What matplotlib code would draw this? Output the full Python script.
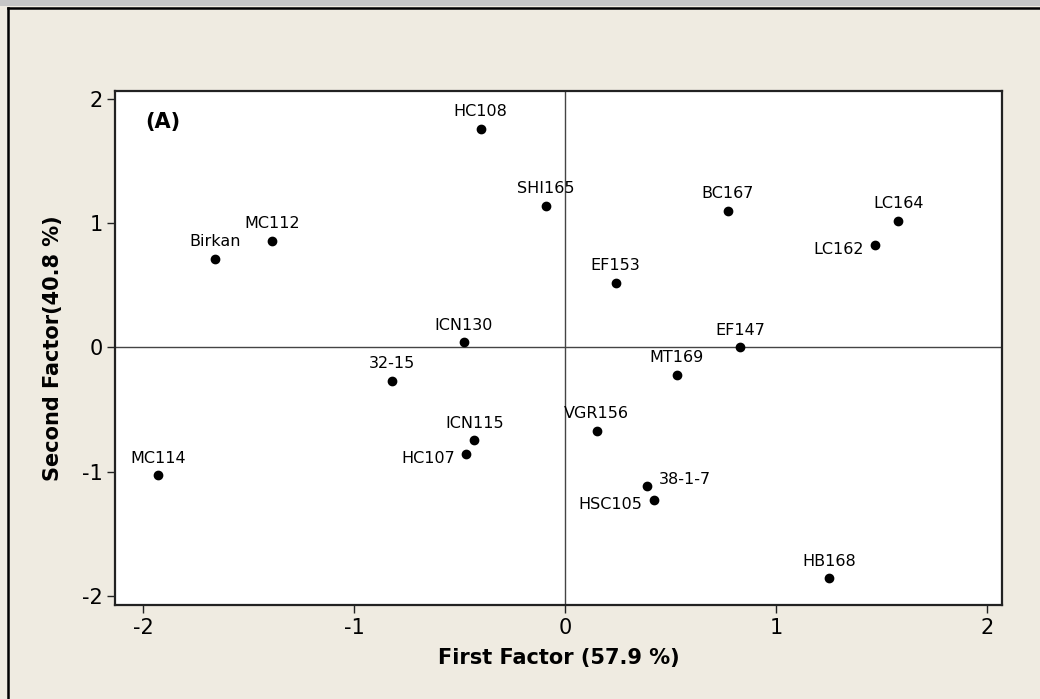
import matplotlib
matplotlib.use('Agg')
import matplotlib.pyplot as plt
from matplotlib.patches import Rectangle
from matplotlib.lines import Line2D

plt.rcParams['font.family'] = ['DejaVu Sans']
plt.rcParams['axes.unicode_minus'] = False

# 데이터
names = ['HC108', 'SHI165', 'Birkan', 'MC112', 'ICN130', '32-15', 'BC167',
         'LC164', 'LC162', 'EF153', 'EF147', 'MT169', 'MC114', 'ICN115',
         'HC107', 'VGR156', '38-1-7', 'HSC105', 'HB168']
factor1 = [-0.40, -0.09, -1.66, -1.39, -0.48, -0.82, 0.77,
           1.58, 1.47, 0.24, 0.83, 0.53, -1.93, -0.43,
           -0.47, 0.15, 0.39, 0.42, 1.25]
factor2 = [1.76, 1.14, 0.71, 0.86, 0.04, -0.27, 1.10,
           1.02, 0.82, 0.52, 0.00, -0.22, -1.03, -0.75,
           -0.86, -0.67, -1.12, -1.23, -1.86]
# 라벨 위치: above / left / right
label_pos = ['above'] * len(names)
label_pos[names.index('LC162')] = 'left'
label_pos[names.index('HC107')] = 'left'
label_pos[names.index('HSC105')] = 'left'
label_pos[names.index('38-1-7')] = 'right'

xticks = [-2, -1, 0, 1, 2]
yticks = [-2, -1, 0, 1, 2]

bg = '#efebe1'
fig = plt.figure(figsize=(10.4, 6.99), dpi=100, facecolor=bg)

# 바깥 프레임
fig.add_artist(Rectangle((0, 1 - 6 / 699), 1, 6 / 699, transform=fig.transFigure,
                         facecolor='#c6c6c6', edgecolor='none'))
fig.add_artist(Line2D([8 / 1040, 1], [1 - 7.5 / 699, 1 - 7.5 / 699],
                      transform=fig.transFigure, color='black', lw=1.8))
fig.add_artist(Line2D([8 / 1040, 8 / 1040], [0, 1 - 7.5 / 699],
                      transform=fig.transFigure, color='black', lw=1.8))

ax = fig.add_axes([115 / 1040, 1 - 605 / 699, 887 / 1040, 514 / 699])
ax.set_facecolor('white')

ax.axhline(0, color='#444444', lw=1.0, zorder=1)
ax.axvline(0, color='#444444', lw=1.0, zorder=1)

ax.scatter(factor1, factor2, s=36, color='black', zorder=3)

for n, x, y, p in zip(names, factor1, factor2, label_pos):
    if p == 'above':
        ax.annotate(n, (x, y), xytext=(0, 7), textcoords='offset points',
                    ha='center', va='bottom', fontsize=11.5)
    elif p == 'left':
        ax.annotate(n, (x, y), xytext=(-8, -3), textcoords='offset points',
                    ha='right', va='center', fontsize=11.5)
    else:
        ax.annotate(n, (x, y), xytext=(8, 5), textcoords='offset points',
                    ha='left', va='center', fontsize=11.5)

ax.text(0.034, 0.94, '(A)', transform=ax.transAxes, fontsize=15,
        fontweight='bold', ha='left', va='center')

ax.set_xlim(-2.133, 2.071)
ax.set_ylim(-2.075, 2.064)
ax.set_xticks(xticks)
ax.set_yticks(yticks)
ax.set_xticklabels([str(t) for t in xticks])
ax.set_yticklabels([str(t) for t in yticks])
ax.tick_params(direction='out', length=6, width=1, labelsize=15, pad=3,
               color='#222222')

for s in ax.spines.values():
    s.set_linewidth(1.6)
    s.set_color('#222222')

ax.set_xlabel('First Factor (57.9 %)', fontsize=15, fontweight='bold')
ax.set_ylabel('Second Factor(40.8 %)', fontsize=15, fontweight='bold')
ax.xaxis.set_label_coords(0.5, -0.083)
ax.yaxis.set_label_coords(-0.059, 0.5)

fig.savefig('out.png', dpi=100, facecolor=bg)
